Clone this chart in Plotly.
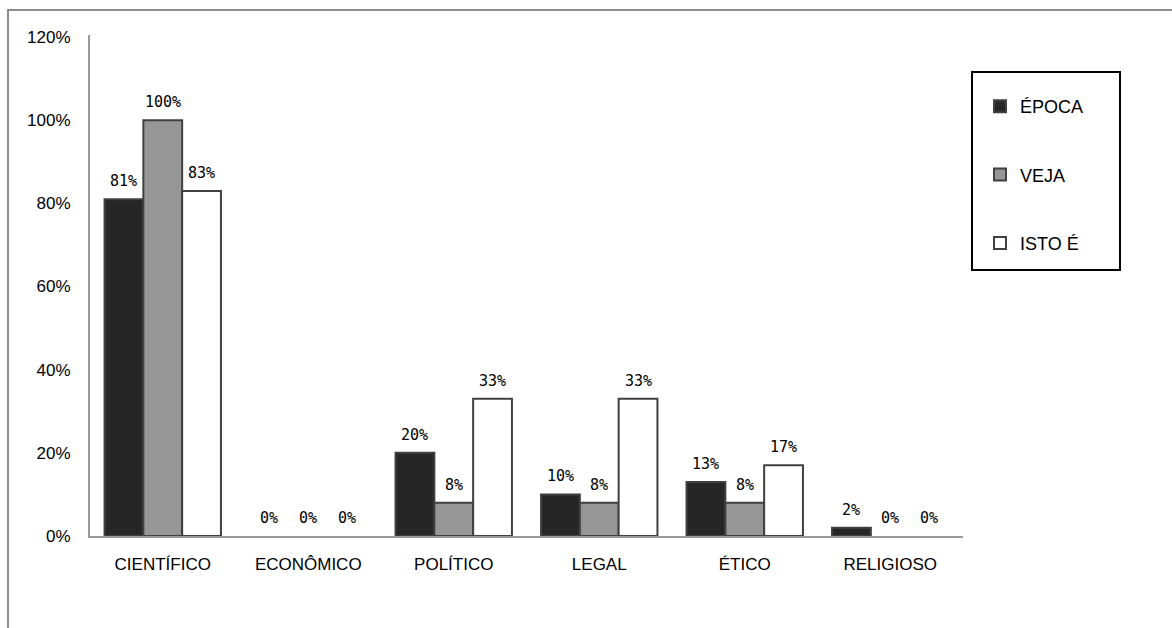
import plotly.graph_objects as go

categories = ["CIENTÍFICO", "ECONÔMICO", "POLÍTICO", "LEGAL", "ÉTICO", "RELIGIOSO"]
series_names = ["ÉPOCA", "VEJA", "ISTO É"]
epoca = [0.81, 0.00, 0.20, 0.10, 0.13, 0.02]
veja = [1.00, 0.00, 0.08, 0.08, 0.08, 0.00]
isto_e = [0.83, 0.00, 0.33, 0.33, 0.17, 0.00]
y_ticks = [0, 0.2, 0.4, 0.6, 0.8, 1.0, 1.2]
y_tick_labels = ["0%", "20%", "40%", "60%", "80%", "100%", "120%"]

colors = ["#262626", "#969696", "#ffffff"]

W, H = 1172, 628
l, r, t, b = 90, 209, 35, 92
pw, ph = W - l - r, H - t - b
bargap = 0.2
bar_px = pw / len(categories) * (1 - bargap) / 3

fig = go.Figure()
annotations = []
for i, (name, vals) in enumerate(zip(series_names, [epoca, veja, isto_e])):
    fig.add_trace(go.Bar(
        x=categories, y=vals, name=name,
        marker=dict(color=colors[i],
                    line=dict(color="#404040", width=[2 if v > 0 else 0 for v in vals])),
        cliponaxis=False,
        legendgroup=f"g{i}",
    ))
    for c, v in zip(categories, vals):
        annotations.append(dict(
            x=c, y=v, xref="x", yref="y", text=f"{round(v*100)}%",
            showarrow=False, yanchor="bottom", xanchor="center",
            xshift=(i - 1) * bar_px, yshift=7,
            font=dict(family="DejaVu Sans Mono", size=15, color="#000000"),
        ))

def px_x(x):
    return (x - l) / pw

def px_y(y):
    return (H - b - y) / ph

fig.update_layout(
    width=W, height=H,
    margin=dict(l=l, r=r, t=t, b=b),
    paper_bgcolor="white", plot_bgcolor="white",
    barmode="group", bargap=bargap, bargroupgap=0,
    font=dict(family="Liberation Sans, Arial, sans-serif", size=17, color="#000000"),
    showlegend=True,
    legend=dict(
        x=px_x(980), y=px_y(88), xanchor="left", yanchor="top",
        bgcolor="rgba(0,0,0,0)", borderwidth=0,
        font=dict(size=18), tracegroupgap=42,
        itemwidth=30,
    ),
    xaxis=dict(showline=True, linecolor="#999999", linewidth=2, ticks="",
               tickfont=dict(size=17), showgrid=False, ticklabelstandoff=12),
    yaxis=dict(range=[0, 1.205], tickvals=y_ticks, ticktext=y_tick_labels,
               showline=True, linecolor="#999999", linewidth=2, showgrid=False,
               zeroline=False, ticks="", ticklen=0, tickfont=dict(size=17),
               ticklabelstandoff=14),
    annotations=annotations,
    shapes=[
        dict(type="rect", xref="paper", yref="paper",
             x0=px_x(8), x1=px_x(1300), y0=px_y(700), y1=px_y(10),
             line=dict(color="#8c8c8c", width=2), fillcolor="rgba(0,0,0,0)", layer="below"),
        dict(type="rect", xref="paper", yref="paper",
             x0=px_x(972), x1=px_x(1120), y0=px_y(270), y1=px_y(72),
             line=dict(color="#000000", width=2), fillcolor="rgba(0,0,0,0)"),
    ],
)

fig.write_html("out.html")
